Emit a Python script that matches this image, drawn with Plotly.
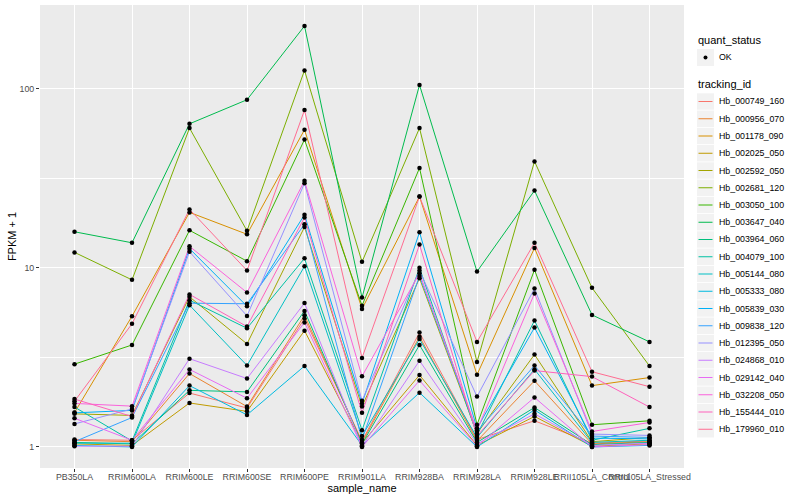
import plotly.graph_objects as go

# ---------------- data ----------------
samples = ["PB350LA", "RRIM600LA", "RRIM600LE", "RRIM600SE", "RRIM600PE",
           "RRIM901LA", "RRIM928BA", "RRIM928LA", "RRIM928LE",
           "RRII105LA_Control", "RRII105LA_Stressed"]

tracking_ids = ["Hb_000749_160", "Hb_000956_070", "Hb_001178_090", "Hb_002025_050",
                "Hb_002592_050", "Hb_002681_120", "Hb_003050_100", "Hb_003647_040",
                "Hb_003964_060", "Hb_004079_100", "Hb_005144_080", "Hb_005333_080",
                "Hb_005839_030", "Hb_009838_120", "Hb_012395_050", "Hb_024868_010",
                "Hb_029142_040", "Hb_032208_050", "Hb_155444_010", "Hb_179960_010"]

quant_status = ["OK"]

# FPKM + 1 per tracking_id, in sample order
hb_000749_160 = [1.10, 1.09, 2.00, 1.65, 5.21, 1.08, 4.35, 1.10, 1.40, 1.05, 1.08]
hb_000956_070 = [1.09, 1.07, 2.57, 1.68, 5.43, 1.06, 4.13, 1.08, 2.34, 1.04, 1.07]
hb_001178_090 = [1.555, 5.37, 20.4, 15.4, 59.0, 5.90, 25.0, 2.53, 12.9, 2.20, 2.44]
hb_002025_050 = [1.04, 1.02, 1.76, 1.58, 4.46, 1.05, 2.52, 1.02, 1.48, 1.01, 1.04]
hb_002592_050 = [1.53, 1.50, 6.89, 3.76, 16.9, 1.68, 8.75, 1.19, 3.28, 1.07, 1.13]
hb_002681_120 = [12.2, 8.57, 60.3, 16.1, 126.6, 10.8, 60.3, 2.98, 39.3, 7.73, 2.83]
hb_003050_100 = [2.90, 3.71, 16.2, 10.9, 52.0, 6.15, 36.1, 1.33, 9.75, 1.33, 1.40]
hb_003647_040 = [15.9, 13.8, 63.7, 86.8, 224.0, 6.82, 105.0, 9.53, 27.0, 5.46, 3.86]
hb_003964_060 = [1.06, 1.04, 2.07, 2.03, 5.75, 1.04, 3.71, 1.06, 1.66, 1.03, 1.06]
hb_004079_100 = [1.67, 1.08, 6.60, 4.60, 11.3, 1.24, 10.0, 1.17, 5.08, 1.09, 1.27]
hb_005144_080 = [1.05, 1.05, 6.19, 2.85, 10.2, 1.15, 4.00, 1.13, 2.71, 1.06, 1.09]
hb_005333_080 = [1.02, 1.00, 2.20, 1.51, 2.83, 1.02, 2.01, 1.00, 1.61, 1.00, 1.02]
hb_005839_030 = [1.55, 1.60, 12.8, 6.10, 19.8, 1.75, 15.8, 1.27, 4.64, 1.12, 1.11]
hb_009838_120 = [1.07, 1.46, 6.35, 6.30, 17.5, 1.10, 9.00, 1.22, 2.85, 1.15, 1.13]
hb_012395_050 = [1.345, 1.63, 12.3, 5.39, 29.7, 1.81, 9.66, 1.91, 7.66, 1.18, 1.16]
hb_024868_010 = [1.01, 1.01, 3.11, 2.41, 6.36, 1.01, 3.03, 1.04, 1.53, 1.02, 1.05]
hb_029142_040 = [1.446, 1.09, 2.71, 1.87, 4.96, 1.00, 2.35, 1.01, 1.89, 1.00, 1.03]
hb_032208_050 = [1.75, 1.69, 13.2, 7.28, 30.6, 2.48, 9.33, 1.24, 7.20, 1.22, 1.37]
hb_155444_010 = [1.85, 1.48, 7.11, 4.70, 19.1, 1.55, 13.5, 1.15, 2.67, 2.47, 1.67]
hb_179960_010 = [1.80, 4.87, 21.2, 9.66, 76.0, 3.14, 25.0, 3.86, 13.8, 2.63, 2.17]

series_values = [hb_000749_160, hb_000956_070, hb_001178_090, hb_002025_050,
                 hb_002592_050, hb_002681_120, hb_003050_100, hb_003647_040,
                 hb_003964_060, hb_004079_100, hb_005144_080, hb_005333_080,
                 hb_005839_030, hb_009838_120, hb_012395_050, hb_024868_010,
                 hb_029142_040, hb_032208_050, hb_155444_010, hb_179960_010]

y_tick_vals = [1, 10, 100]
y_tick_text = ["1", "10", "100"]

# ---------------- style ----------------
colors = ["#F8766D", "#EA8331", "#D89000", "#C09B00", "#A3A500", "#7CAE00",
          "#39B600", "#00BB4E", "#00BF7D", "#00C1A3", "#00BFC4", "#00BAE0",
          "#00B0F6", "#35A2FF", "#9590FF", "#C77CFF", "#E76BF3", "#FA62DB",
          "#FF62BC", "#FF6C91"]

FONT = "Liberation Sans, Arial, sans-serif"
W, H = 800, 500
ML, MR, MT, MB = 40, 116, 5, 32
PW, PH = W - ML - MR, H - MT - MB


def px_x(px):
    return (px - ML) / PW


def px_y(py):
    return (H - MB - py) / PH


fig = go.Figure()

for tid, vals, col in zip(tracking_ids, series_values, colors):
    fig.add_trace(go.Scatter(x=samples, y=vals, mode="lines", name=tid,
                             line=dict(color=col, width=1), showlegend=False))

for tid, vals in zip(tracking_ids, series_values):
    fig.add_trace(go.Scatter(x=samples, y=vals, mode="markers", name=tid,
                             marker=dict(color="black", size=4.5, line=dict(width=0)),
                             showlegend=False))

# ---------------- manual ggplot-style legend ----------------
shapes = []
annotations = []

annotations.append(dict(x=px_x(696), y=px_y(40), xref="paper", yref="paper",
                        text="quant_status", showarrow=False, xanchor="left",
                        yanchor="middle", font=dict(family=FONT, size=11, color="black")))
shapes.append(dict(type="rect", xref="paper", yref="paper",
                   x0=px_x(697), x1=px_x(714), y0=px_y(49), y1=px_y(66),
                   fillcolor="#F2F2F2", line=dict(width=0), layer="above"))
shapes.append(dict(type="circle", xref="paper", yref="paper",
                   x0=px_x(703.5), x1=px_x(707.5), y0=px_y(55.5), y1=px_y(59.5),
                   fillcolor="black", line=dict(width=0), layer="above"))
annotations.append(dict(x=px_x(716.5), y=px_y(57.5), xref="paper", yref="paper",
                        text=quant_status[0], showarrow=False, xanchor="left",
                        yanchor="middle", font=dict(family=FONT, size=8.8, color="black")))

annotations.append(dict(x=px_x(696), y=px_y(84), xref="paper", yref="paper",
                        text="tracking_id", showarrow=False, xanchor="left",
                        yanchor="middle", font=dict(family=FONT, size=11, color="black")))

first_c, step = 101.5, 17.25
for i, (tid, col) in enumerate(zip(tracking_ids, colors)):
    cy = first_c + i * step
    shapes.append(dict(type="rect", xref="paper", yref="paper",
                       x0=px_x(697), x1=px_x(714), y0=px_y(cy - 8.2), y1=px_y(cy + 8.2),
                       fillcolor="#F2F2F2", line=dict(width=0), layer="above"))
    shapes.append(dict(type="line", xref="paper", yref="paper",
                       x0=px_x(698.5), x1=px_x(712.5), y0=px_y(cy), y1=px_y(cy),
                       line=dict(color=col, width=1), layer="above"))
    annotations.append(dict(x=px_x(716.5), y=px_y(cy), xref="paper", yref="paper",
                            text=tid, showarrow=False, xanchor="left", yanchor="middle",
                            font=dict(family=FONT, size=8.8, color="black")))

fig.update_layout(
    width=W, height=H,
    margin=dict(l=ML, r=MR, t=MT, b=MB, autoexpand=False),
    paper_bgcolor="white", plot_bgcolor="#EBEBEB",
    font=dict(family=FONT, size=8.8, color="#4D4D4D"),
    showlegend=False,
    shapes=shapes, annotations=annotations,
    xaxis=dict(type="category", categoryorder="array", categoryarray=samples,
               range=[-0.6, 10.6], showgrid=True, gridcolor="white", gridwidth=1.07,
               zeroline=False, showline=False, ticks="outside", ticklen=3,
               tickwidth=1, tickcolor="#333333", tickangle=0,
               ticklabelstandoff=-3,
               tickfont=dict(family=FONT, size=8.8, color="#4D4D4D"),
               title=dict(text="sample_name", standoff=3,
                          font=dict(family=FONT, size=11, color="black")),
               automargin=False),
    yaxis=dict(type="log", range=[-0.1175, 2.4675],
               tickmode="array", tickvals=y_tick_vals, ticktext=y_tick_text,
               showgrid=True, gridcolor="white", gridwidth=1.07,
               minor=dict(tickmode="array", tickvals=[10 ** 0.5, 10 ** 1.5],
                          showgrid=True, gridcolor="white", gridwidth=0.53, ticks=""),
               zeroline=False, showline=False, ticks="outside", ticklen=3,
               tickwidth=1, tickcolor="#333333",
               tickfont=dict(family=FONT, size=8.8, color="#4D4D4D"),
               title=dict(text="FPKM + 1", standoff=0,
                          font=dict(family=FONT, size=11, color="black")),
               automargin=False),
)

fig.write_html("out.html",
               config={"displayModeBar": False},
               post_script="document.body.style.margin='0px';"
                           "document.body.style.overflow='hidden';")
